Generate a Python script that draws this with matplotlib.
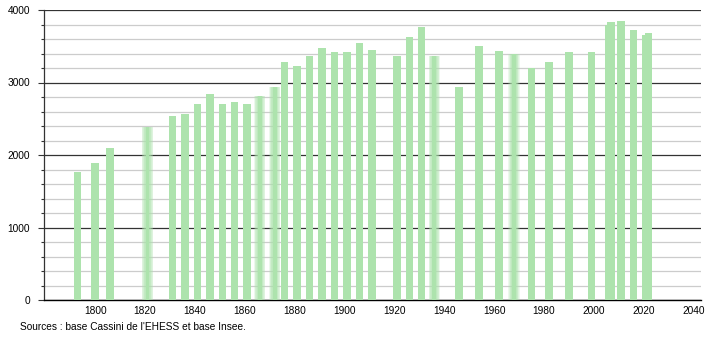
import numpy as np
import matplotlib
matplotlib.use("Agg")
import matplotlib.pyplot as plt
from matplotlib.ticker import MultipleLocator

# census years and population
years = [1793, 1800, 1806, 1821, 1831, 1836, 1841, 1846, 1851, 1856,
         1861, 1866, 1872, 1876, 1881, 1886, 1891, 1896, 1901, 1906,
         1911, 1921, 1926, 1931, 1936, 1946, 1954, 1962, 1968, 1975,
         1982, 1990, 1999, 2006, 2007, 2011, 2016, 2021, 2022]
population = [1768, 1892, 2090, 2384, 2535, 2559, 2710, 2844, 2710, 2726,
              2706, 2807, 2935, 3276, 3221, 3368, 3469, 3414, 3414, 3542,
              3455, 3359, 3634, 3772, 3359, 2941, 3510, 3441, 3396, 3203,
              3276, 3414, 3414, 3800, 3840, 3855, 3731, 3658, 3676]
# bars that look smudged in the original
soft_years = [1821, 1866, 1872, 1936, 1968]

x_ticks = list(range(1800, 2041, 20))
source_text = "Sources : base Cassini de l'EHESS et base Insee."

plt.rcParams['font.family'] = ['Liberation Sans', 'DejaVu Sans']

bar_color = "#ade3ad"
bar_w = 3.0

fig = plt.figure(figsize=(7.1, 3.4), dpi=100)
ax = fig.add_axes([44 / 710, 1 - 300 / 340, 657 / 710, 290 / 340])

for y, p in zip(years, population):
    if y in soft_years:
        # soft edges: narrow core plus wider faded layers
        ax.bar(y, p, width=bar_w * 0.5, color=bar_color, zorder=3, linewidth=0)
        for k in range(1, 7):
            ax.bar(y, p, width=bar_w * (0.5 + 0.17 * k), color=bar_color,
                   alpha=0.22, zorder=3, linewidth=0)
    else:
        ax.bar(y, p, width=bar_w, color=bar_color, zorder=3, linewidth=0)

ax.set_xlim(1779.5, 2043)
ax.set_ylim(0, 4000)

ax.yaxis.set_major_locator(MultipleLocator(1000))
ax.yaxis.set_minor_locator(MultipleLocator(200))
ax.set_xticks(x_ticks)

ax.grid(axis="y", which="minor", color="#cccccc", linewidth=0.9, zorder=0)
ax.grid(axis="y", which="major", color="#333333", linewidth=0.9, zorder=1)
ax.grid(axis="x", visible=False)

for s in ["top", "right"]:
    ax.spines[s].set_visible(False)
ax.spines["left"].set_color("#333333")
ax.spines["left"].set_linewidth(0.9)
ax.spines["bottom"].set_color("black")
ax.spines["bottom"].set_linewidth(1.0)

ax.tick_params(axis="y", which="major", length=4, width=0.8, color="#333333",
               labelsize=7.3, pad=6)
ax.tick_params(axis="y", which="minor", length=2, width=0.8, color="#333333")
ax.tick_params(axis="x", which="both", length=0, labelsize=7.3, pad=4)

fig.text(20 / 710, 1 - 327 / 340, source_text, fontsize=7.3, va="center", ha="left")

fig.savefig("out.png", dpi=100)
